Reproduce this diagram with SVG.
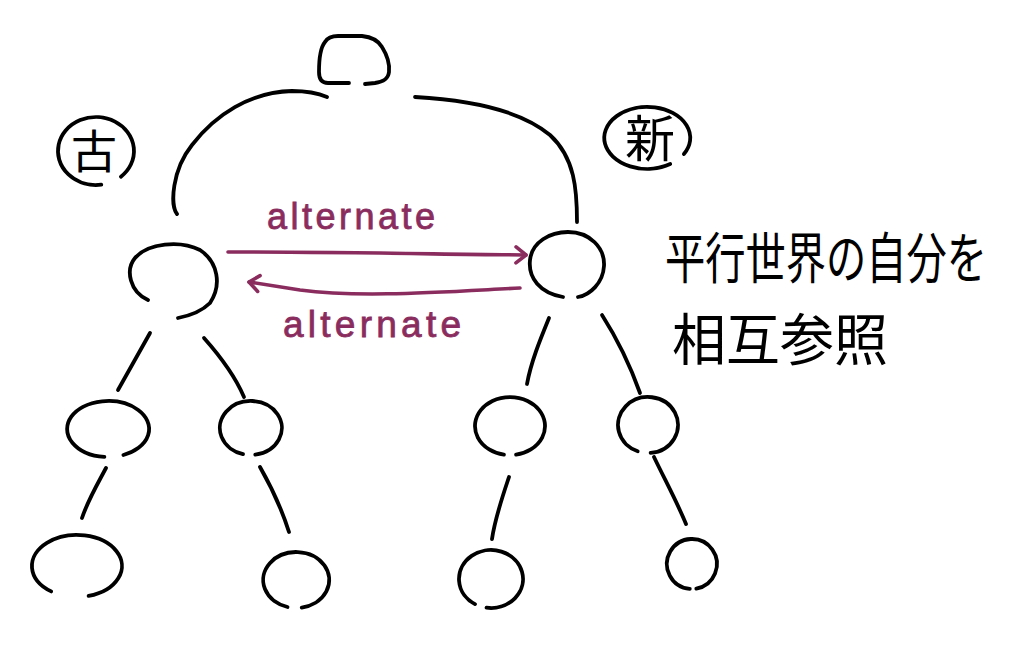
<svg xmlns="http://www.w3.org/2000/svg" width="1016" height="660" viewBox="0 0 1016 660">
<style>
.ln{fill:none;stroke:#000;stroke-width:3.8;stroke-linecap:round;stroke-linejoin:round}
.pl{fill:none;stroke:#8a2d5e;stroke-width:3.6;stroke-linecap:round;stroke-linejoin:round}
.lbl{font-family:"Liberation Sans",Arial,sans-serif;fill:#8a2d5e;stroke:#8a2d5e;stroke-width:0.8}
.jp{font-family:"Noto Sans CJK JP","Noto Sans CJK SC",sans-serif;fill:#000}
</style>
<defs>
<marker id="chev" viewBox="0 0 14 20" refX="12" refY="10" markerWidth="14" markerHeight="20" markerUnits="userSpaceOnUse" orient="auto" overflow="visible">
<path d="M2,2 L12,10 L2,18" fill="none" stroke="#8a2d5e" stroke-width="3.6" stroke-linecap="round" stroke-linejoin="round"/>
</marker>
</defs>
<rect width="1016" height="660" fill="#fff"/>

<g id="root">
<path class="ln" d="M349,83 L328,83 C321,83 319,78 319,72 C319,60 320,48 325,42 C328,37 332,36 338,36 L362,36 C372,37 378,40 382,47 C387,55 390,63 389,72 C388,80 382,82 375,83 L365,84"/>
</g>

<g id="label-old">
<path class="ln" d="M101.3,184.7 A38,34 0 1 1 120.9,176.7"/>
<text class="jp" x="94" y="168" font-size="46" text-anchor="middle">古</text>
</g>

<g id="label-new">
<path class="ln" d="M670.2,164.1 A43,31 0 1 1 683.9,154.1"/>
<text class="jp" x="650" y="157" font-size="50" text-anchor="middle">新</text>
</g>

<g id="note">
<text class="jp" transform="translate(665,278) scale(1,1.25)" x="0" y="0" font-size="44" textLength="322" lengthAdjust="spacingAndGlyphs">平行世界の自分を</text>
<text class="jp" x="672" y="360" font-size="56" textLength="216" lengthAdjust="spacingAndGlyphs">相互参照</text>
</g>

<g id="old-1">
<path class="ln" d="M148,300 C130,292 125,270 135,258 C148,243 180,240 200,250 C218,262 222,285 210,303 C200,313 188,316 178,318"/>
</g>
<g id="new-1">
<path class="ln" d="M563,297 C540,293 528,278 530,260 C532,242 550,232 568,232 C590,232 605,248 604,266 C603,283 590,295 578,297"/>
</g>

<g id="old-2a"><path class="ln" d="M104.4,456.9 A41,28 0 1 1 123.4,455"/></g>
<g id="old-2b"><path class="ln" d="M243,454.1 A31,27 0 1 1 255.3,454.7"/></g>
<g id="new-2a"><path class="ln" d="M503.9,454.6 A35,29 0 1 1 516.1,454.6"/></g>
<g id="new-2b"><path class="ln" d="M637.7,451.3 A30,28 0 1 1 650.6,452.9"/></g>

<g id="old-3a"><path class="ln" d="M51.2,591.4 A45,31 0 1 1 88.6,595.9"/></g>
<g id="old-3b"><path class="ln" d="M287.5,607 A33,28 0 1 1 301.7,607.6"/></g>
<g id="new-3a"><path class="ln" d="M475,604.1 A32,29 0 1 1 486.5,607.7"/></g>
<g id="new-3b"><path class="ln" d="M689.8,588.9 A25,25 0 1 1 696.3,588.6"/></g>

<g id="connectors">
<path class="ln" d="M177,214 C170,205 172,170 192,145 C215,115 250,92 292,91 C308,91 320,94 327,97"/>
<path class="ln" d="M415,97 C470,100 520,110 550,135 C575,158 577,190 577,222"/>
<path class="ln" d="M150,333 L118,390"/>
<path class="ln" d="M204,338 C220,356 235,376 244,397"/>
<path class="ln" d="M549,318 C540,340 531,362 527,384"/>
<path class="ln" d="M602,315 C618,340 630,365 640,393"/>
<path class="ln" d="M106,468 C97,485 88,500 82,518"/>
<path class="ln" d="M260,467 C272,488 282,510 289,532"/>
<path class="ln" d="M509,477 C502,498 495,518 492,539"/>
<path class="ln" d="M654,457 C665,480 677,502 686,524"/>
<path class="pl" d="M228,252 C330,252 430,254 526,255" marker-end="url(#chev)"/>
<path class="pl" d="M520,288 C440,292 360,298 300,290 C280,287 262,284 249,282" marker-end="url(#chev)"/>
</g>

<g id="edge-labels">
<text class="lbl" x="267" y="229" font-size="36" textLength="168" lengthAdjust="spacing">alternate</text>
<text class="lbl" x="283" y="337" font-size="37" textLength="178" lengthAdjust="spacing">alternate</text>
</g>
</svg>
